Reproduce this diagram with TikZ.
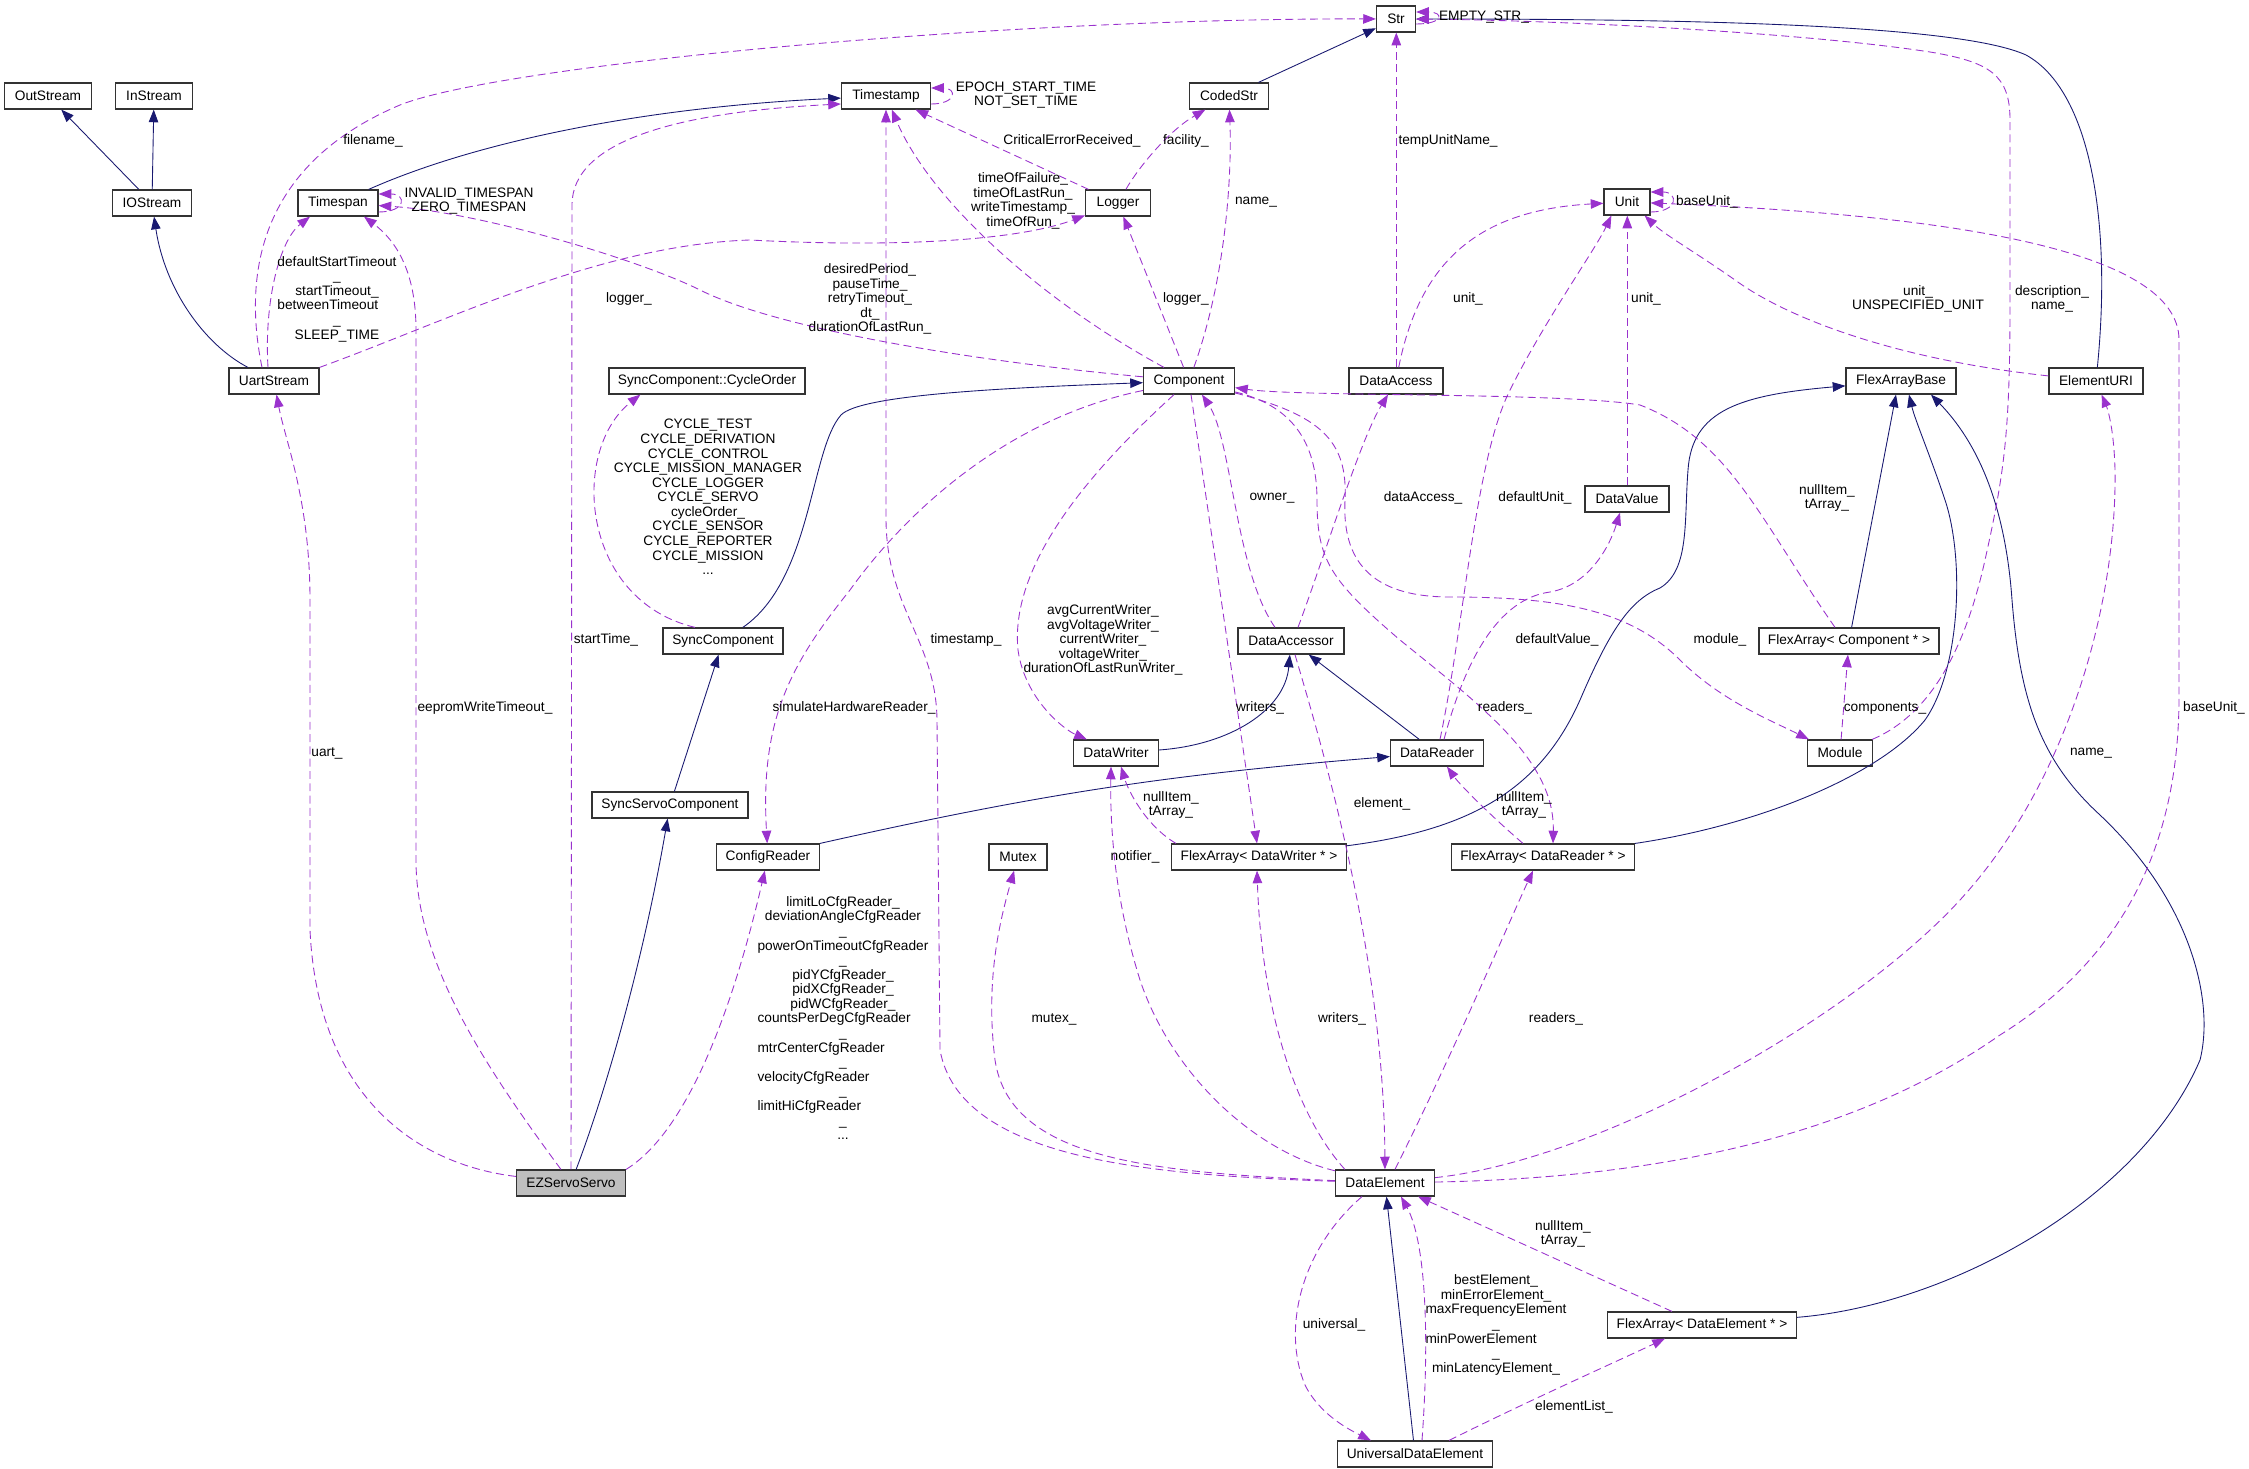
\documentclass[tikz,border=0pt]{standalone}
\usepackage{fontspec}
\setmainfont{Liberation Sans}
\usetikzlibrary{arrows.meta,calc}
\definecolor{inhblue}{HTML}{191970}
\definecolor{usepurple}{HTML}{9A32CD}
\newcommand\lft{\hspace{0pt plus 1fill}\null}
\begin{document}
\begin{tikzpicture}[x=0.02cm,y=-0.02cm,
    >={Triangle[length=7.2pt,width=5.4pt]},
    cls/.style={draw=black!80,line width=0.7pt,fill=white,minimum height=0.52cm,
      inner xsep=2pt,inner ysep=0pt,font=\fontsize{7.8}{8.3}\selectfont},
    lbl/.style={inner sep=0pt,align=center,font=\fontsize{7.8}{8.3}\selectfont},
    inhedge/.style={->,draw=inhblue,line width=0.5pt},
    useedge/.style={->,draw=usepurple,line width=0.5pt,dash pattern=on 4.5pt off 2.5pt}]
  \useasboundingbox (0,0) rectangle (2249,1469);

  % classes
  \node[cls,minimum width=0.78cm] (Str) at (1396,19) {Str};
  \node[cls,minimum width=1.74cm] (OutStream) at (48,96) {OutStream};
  \node[cls,minimum width=1.54cm] (InStream) at (154,96) {InStream};
  \node[cls,minimum width=1.78cm] (Timestamp) at (886,96) {Timestamp};
  \node[cls,minimum width=1.58cm] (CodedStr) at (1229,96) {CodedStr};
  \node[cls,minimum width=1.58cm] (IOStream) at (152,203) {IOStream};
  \node[cls,minimum width=1.6cm] (Timespan) at (338,203) {Timespan};
  \node[cls,minimum width=1.3cm] (Logger) at (1118,203) {Logger};
  \node[cls,minimum width=0.92cm] (Unit) at (1627,202) {Unit};
  \node[cls,minimum width=1.8cm] (UartStream) at (274,381) {UartStream};
  \node[cls,minimum width=3.92cm] (CycleOrder) at (707,381) {SyncComponent::CycleOrder};
  \node[cls,minimum width=1.82cm] (Component) at (1189,381) {Component};
  \node[cls,minimum width=1.88cm] (DataAccess) at (1396,381) {DataAccess};
  \node[cls,minimum width=2.2cm] (FlexArrayBase) at (1901,381) {FlexArrayBase};
  \node[cls,minimum width=1.88cm] (ElementURI) at (2096,381) {ElementURI};
  \node[cls,minimum width=1.68cm] (DataValue) at (1627,499) {DataValue};
  \node[cls,minimum width=2.4cm] (SyncComponent) at (723,641) {SyncComponent};
  \node[cls,minimum width=2.12cm] (DataAccessor) at (1291,641) {DataAccessor};
  \node[cls,minimum width=3.6cm] (FlexComponent) at (1849,641) {FlexArray< Component * >};
  \node[cls,minimum width=1.7cm] (DataWriter) at (1116,753) {DataWriter};
  \node[cls,minimum width=1.86cm] (DataReader) at (1437,753) {DataReader};
  \node[cls,minimum width=1.3cm] (Module) at (1840,753) {Module};
  \node[cls,minimum width=3.12cm] (SyncServoComponent) at (670,805) {SyncServoComponent};
  \node[cls,minimum width=2.06cm] (ConfigReader) at (768,857) {ConfigReader};
  \node[cls,minimum width=1.16cm] (Mutex) at (1018,857) {Mutex};
  \node[cls,minimum width=3.5cm] (FlexWriter) at (1259,857) {FlexArray< DataWriter * >};
  \node[cls,minimum width=3.66cm] (FlexReader) at (1543,857) {FlexArray< DataReader * >};
  \node[cls,minimum width=2.18cm,fill=black!25] (EZServoServo) at (571,1183) {EZServoServo};
  \node[cls,minimum width=1.98cm] (DataElement) at (1385,1183) {DataElement};
  \node[cls,minimum width=3.78cm] (FlexElement) at (1702,1325) {FlexArray< DataElement * >};
  \node[cls,minimum width=3.1cm] (UniversalDataElement) at (1415,1454) {UniversalDataElement};

  % inheritance
  \draw[inhedge] (IOStream) -- (OutStream);
  \draw[inhedge] (IOStream) -- (InStream);
  \draw[inhedge] (UartStream) .. controls (205,345) and (165,290) .. (IOStream);
  \draw[inhedge] (Timespan) .. controls (480,140) and (650,107) .. (Timestamp);
  \draw[inhedge] (CodedStr) -- (Str);
  \draw[inhedge] (ElementURI) .. controls (2112,220) and (2090,90) .. (2026,55)
    .. controls (1960,25) and (1700,19) .. (Str);
  \draw[inhedge] (SyncComponent) .. controls (812,580) and (810,450) .. (841,415)
    .. controls (860,395) and (1000,388) .. (Component);
  \draw[inhedge] (SyncServoComponent) -- (SyncComponent);
  \draw[inhedge] (EZServoServo) .. controls (610,1080) and (645,950) .. (SyncServoComponent);
  \draw[inhedge] (DataWriter) .. controls (1230,745) and (1285,710) .. (DataAccessor);
  \draw[inhedge] (DataReader) -- (DataAccessor);
  \draw[inhedge] (ConfigReader.north east) to[bend left=4] (DataReader);
  \draw[inhedge] (FlexWriter) .. controls (1470,830) and (1540,790) .. (1580,700)
    .. controls (1610,630) and (1630,600) .. (1660,588)
    .. controls (1690,570) and (1684,520) .. (1688,470)
    .. controls (1692,410) and (1740,395) .. (FlexArrayBase);
  \draw[inhedge] (FlexComponent) -- ($(FlexArrayBase.south)+(-5,0)$);
  \draw[inhedge] (FlexReader) .. controls (1760,825) and (1880,775) .. (1925,720)
    .. controls (1960,670) and (1965,560) .. (1945,500)
    .. controls (1930,455) and (1915,420) .. ($(FlexArrayBase.south)+(8,0)$);
  \draw[inhedge] (FlexElement) .. controls (1950,1305) and (2140,1200) .. (2200,1060)
    .. controls (2215,1000) and (2190,900) .. (2100,815)
    .. controls (2040,760) and (2020,700) .. (2012,600)
    .. controls (2005,500) and (1975,440) .. ($(FlexArrayBase.south)+(30,0)$);
  \draw[inhedge] (UniversalDataElement) -- (DataElement);

  % usage
  \draw[useedge] ($(UartStream.north)+(-12,0)$) .. controls (240,260) and (270,160) .. (400,105)
    .. controls (500,65) and (1000,18) .. (Str);
  \draw[useedge] ($(UartStream.north)+(-6,0)$) .. controls (264,300) and (280,240) .. ($(Timespan.south)+(-28,0)$);
  \draw[useedge] (UartStream.north east) .. controls (450,320) and (600,245) .. (750,240)
    .. controls (900,248) and (1020,240) .. (Logger);
  \draw[useedge] ($(Timespan.east)+(0,9)$) .. controls +(28,0) and +(28,0) .. ($(Timespan.east)+(0,-9)$);
  \draw[useedge] ($(Timestamp.east)+(0,8)$) .. controls +(26,0) and +(26,0) .. ($(Timestamp.east)+(0,-8)$);
  \draw[useedge] ($(Str.east)+(0,5)$) .. controls +(28,0) and +(28,0) .. ($(Str.east)+(0,-7)$);
  \draw[useedge] ($(Unit.east)+(0,10)$) .. controls +(28,0) and +(28,0) .. ($(Unit.east)+(0,-10)$);
  \draw[useedge] (Logger) -- (Timestamp);
  \draw[useedge] (Logger) .. controls (1140,165) and (1170,130) .. (CodedStr);
  \draw[useedge] (Component) .. controls (1040,300) and (930,200) .. (Timestamp);
  \draw[useedge] (Component) .. controls (980,362) and (780,330) .. (700,290)
    .. controls (640,260) and (480,212) .. (Timespan);
  \draw[useedge] (Component) -- (Logger);
  \draw[useedge] (Component) .. controls (1225,280) and (1232,180) .. (CodedStr);
  \draw[useedge] ($(DataAccess.north)+(0.3,0)$) -- ($(Str.south)+(0.3,0)$);
  \draw[useedge] (DataAccess) .. controls (1420,260) and (1480,210) .. (Unit);
  \draw[useedge] (EZServoServo) -- (572,205) .. controls (572,140) and (680,112) .. ($(Timestamp.west)+(0,8)$);
  \draw[useedge] (EZServoServo) .. controls (480,1060) and (416,960) .. (416,860) -- (416,330)
    .. controls (416,270) and (395,240) .. ($(Timespan.south)+(26,0)$);
  \draw[useedge] (EZServoServo) .. controls (420,1165) and (318,1100) .. (310,930) -- (310,600)
    .. controls (310,500) and (285,440) .. (UartStream);
  \draw[useedge] (EZServoServo.north east) .. controls (690,1130) and (735,1000) .. (ConfigReader);
  \draw[useedge] ($(SyncComponent.north)+(-28,0)$) .. controls (580,600) and (570,450) .. ($(CycleOrder.south west)+(32,0)$);
  \draw[useedge] (Component) .. controls (1000,420) and (900,520) .. (850,590)
    .. controls (790,665) and (760,720) .. (ConfigReader);
  \draw[useedge] (Component) .. controls (1080,480) and (1010,570) .. (1018,650)
    .. controls (1025,700) and (1065,730) .. ($(DataWriter.north west)+(14,0)$);
  \draw[useedge] (Component) -- (FlexWriter);
  \draw[useedge] (Component) .. controls (1290,405) and (1317,440) .. (1317,500)
    .. controls (1317,560) and (1330,580) .. (1400,640)
    .. controls (1480,705) and (1555,760) .. ($(FlexReader.north)+(10,0)$);
  \draw[useedge] (Component) .. controls (1320,415) and (1348,440) .. (1345,500)
    .. controls (1342,560) and (1370,597) .. (1450,597)
    .. controls (1560,597) and (1630,610) .. (1680,660)
    .. controls (1720,700) and (1770,720) .. ($(Module.north west)+(2,0)$);
  \draw[useedge] ($(FlexComponent.north)+(-14,0)$) .. controls (1760,520) and (1730,440) .. (1640,405)
    .. controls (1560,392) and (1300,397) .. (Component);
  \draw[useedge] (Module) -- (FlexComponent);
  \draw[useedge] (Module) .. controls (1930,715) and (1965,650) .. (1985,560)
    .. controls (2005,470) and (2010,430) .. (2010,300) -- (2010,120)
    .. controls (2010,75) and (1990,62) .. (1930,52)
    .. controls (1800,32) and (1550,20) .. (Str);
  \draw[useedge] (DataElement) .. controls (1650,1178) and (1850,1140) .. (2000,1035)
    .. controls (2120,960) and (2178,850) .. (2179,700) -- (2179,340)
    .. controls (2179,250) and (1950,215) .. (Unit);
  \draw[useedge] (DataElement) .. controls (1600,1160) and (1850,1020) .. (1960,900)
    .. controls (2070,780) and (2117,600) .. (2115,470)
    .. controls (2114,430) and (2108,410) .. (ElementURI);
  \draw[useedge] (DataElement) .. controls (1150,1175) and (960,1160) .. (940,1050) -- (937,720)
    .. controls (936,640) and (887,610) .. (886,520) -- (Timestamp);
  \draw[useedge] (DataElement) .. controls (1150,1172) and (1010,1160) .. (995,1060)
    .. controls (985,980) and (1000,920) .. (Mutex);
  \draw[useedge] (DataElement) .. controls (1250,1150) and (1170,1070) .. (1140,980)
    .. controls (1115,900) and (1110,830) .. ($(DataWriter.south)+(-5,0)$);
  \draw[useedge] ($(DataElement.north west)+(10,0)$) .. controls (1300,1120) and (1262,1020) .. ($(FlexWriter.south)+(-2,0)$);
  \draw[useedge] (DataAccessor) .. controls (1320,740) and (1384,950) .. (DataElement);
  \draw[useedge] ($(DataElement.north)+(10,0)$) .. controls (1450,1060) and (1510,920) .. ($(FlexReader.south)+(-10,0)$);
  \draw[useedge] ($(FlexWriter.north west)+(5,0)$) .. controls (1145,825) and (1128,790) .. ($(DataWriter.south)+(5,0)$);
  \draw[useedge] ($(FlexReader.north west)+(72,0)$) .. controls (1490,815) and (1460,785) .. ($(DataReader.south)+(10,0)$);
  \draw[useedge] ($(DataReader.north)+(3,0)$) .. controls (1465,620) and (1475,460) .. (1510,390)
    .. controls (1545,320) and (1595,250) .. ($(Unit.south west)+(8,0)$);
  \draw[useedge] ($(DataReader.north)+(7,0)$) .. controls (1460,680) and (1490,600) .. (1550,592)
    .. controls (1590,585) and (1610,545) .. ($(DataValue.south)+(-7,0)$);
  \draw[useedge] ($(DataValue.north)+(0.3,0)$) -- ($(Unit.south)+(0.3,0)$);
  \draw[useedge] (ElementURI) .. controls (1900,360) and (1790,320) .. (1735,280)
    .. controls (1695,252) and (1665,235) .. ($(Unit.south east)+(-6,0)$);
  \draw[useedge] ($(DataAccessor.north)+(-16,0)$) .. controls (1235,570) and (1232,440) .. ($(Component.south)+(13,0)$);
  \draw[useedge] ($(DataAccessor.north)+(7,0)$) .. controls (1325,555) and (1360,440) .. ($(DataAccess.south)+(-8,0)$);
  \draw[useedge] (FlexElement) -- ($(DataElement.south east)+(-17,0)$);
  \draw[useedge] ($(UniversalDataElement.north east)+(-44,0)$) .. controls (1530,1400) and (1620,1360) .. ($(FlexElement.south west)+(58,0)$);
  \draw[useedge] ($(UniversalDataElement.north)+(7,0)$) .. controls (1430,1330) and (1425,1240) .. ($(DataElement.south)+(16,0)$);
  \draw[useedge] ($(DataElement.south)+(-23,0)$) .. controls (1300,1250) and (1282,1330) .. (1305,1385)
    .. controls (1320,1415) and (1350,1430) .. ($(UniversalDataElement.north west)+(34,0)$);

  % edge labels
  \node[lbl] (lFilename) at (373,141) {filename\_};
  \node[lbl] (lTimespanSelf) at (469,201) {INVALID\_TIMESPAN\\ZERO\_TIMESPAN};
  \node[lbl] (lUartTimespan) at (337,299) {defaultStartTimeout\\\_\\startTimeout\_\\betweenTimeout\lft\\\_\\SLEEP\_TIME};
  \node[lbl] (lUartLogger) at (629,299) {logger\_};
  \node[lbl] (lTimestampSelf) at (1026,95) {EPOCH\_START\_TIME\\NOT\_SET\_TIME};
  \node[lbl] (lCritical) at (1072,141) {CriticalErrorReceived\_};
  \node[lbl] (lFacility) at (1186,141) {facility\_};
  \node[lbl] (lTempUnit) at (1448,141) {tempUnitName\_};
  \node[lbl] (lStrSelf) at (1484,17) {EMPTY\_STR\_};
  \node[lbl] (lUnitSelf) at (1707,202) {baseUnit\_};
  \node[lbl] (lTimes) at (1023,201) {timeOfFailure\_\\timeOfLastRun\_\\writeTimestamp\_\\timeOfRun\_};
  \node[lbl] (lCompName) at (1256,202) {name\_};
  \node[lbl] (lPeriods) at (870,299) {desiredPeriod\_\\pauseTime\_\\retryTimeout\_\\dt\_\\durationOfLastRun\_};
  \node[lbl] (lCompLogger) at (1186,299) {logger\_};
  \node[lbl] (lAccessUnit) at (1468,299) {unit\_};
  \node[lbl] (lValueUnit) at (1646,299) {unit\_};
  \node[lbl] (lUriUnit) at (1918,299) {unit\_\\UNSPECIFIED\_UNIT};
  \node[lbl] (lModuleStr) at (2052,299) {description\_\\name\_};
  \node[lbl] (lCycle) at (708,497) {CYCLE\_TEST\\CYCLE\_DERIVATION\\CYCLE\_CONTROL\\CYCLE\_MISSION\_MANAGER\\CYCLE\_LOGGER\\CYCLE\_SERVO\\cycleOrder\_\\CYCLE\_SENSOR\\CYCLE\_REPORTER\\CYCLE\_MISSION\\...};
  \node[lbl] (lOwner) at (1272,498) {owner\_};
  \node[lbl] (lDataAccess) at (1423,498) {dataAccess\_};
  \node[lbl] (lDefaultUnit) at (1535,498) {defaultUnit\_};
  \node[lbl] (lNullComp) at (1827,498) {nullItem\_\\tArray\_};
  \node[lbl] (lStartTime) at (606,640) {startTime\_};
  \node[lbl] (lTimestamp) at (966,640) {timestamp\_};
  \node[lbl] (lWriterSet) at (1103,640) {avgCurrentWriter\_\\avgVoltageWriter\_\\currentWriter\_\\voltageWriter\_\\durationOfLastRunWriter\_};
  \node[lbl] (lDefaultValue) at (1557,640) {defaultValue\_};
  \node[lbl] (lModule) at (1720,640) {module\_};
  \node[lbl] (lEeprom) at (485,708) {eepromWriteTimeout\_};
  \node[lbl] (lSimulate) at (854,708) {simulateHardwareReader\_};
  \node[lbl] (lWritersC) at (1260,708) {writers\_};
  \node[lbl] (lReadersC) at (1505,708) {readers\_};
  \node[lbl] (lComponents) at (1885,708) {components\_};
  \node[lbl] (lBaseUnit) at (2214,708) {baseUnit\_};
  \node[lbl] (lUart) at (327,753) {uart\_};
  \node[lbl] (lName) at (2091,753) {name\_};
  \node[lbl] (lNullWriter) at (1171,805) {nullItem\_\\tArray\_};
  \node[lbl] (lElement) at (1382,804) {element\_};
  \node[lbl] (lNullReader) at (1524,805) {nullItem\_\\tArray\_};
  \node[lbl] (lNotifier) at (1135,857) {notifier\_};
  \node[lbl] (lCfg) at (843,1018) {limitLoCfgReader\_\\deviationAngleCfgReader\lft\\\_\\powerOnTimeoutCfgReader\lft\\\_\\pidYCfgReader\_\\pidXCfgReader\_\\pidWCfgReader\_\\countsPerDegCfgReader\lft\\\_\\mtrCenterCfgReader\lft\\\_\\velocityCfgReader\lft\\\_\\limitHiCfgReader\lft\\\_\\...};
  \node[lbl] (lMutex) at (1054,1019) {mutex\_};
  \node[lbl] (lWritersE) at (1342,1019) {writers\_};
  \node[lbl] (lReadersE) at (1556,1019) {readers\_};
  \node[lbl] (lNullElem) at (1563,1234) {nullItem\_\\tArray\_};
  \node[lbl] (lBest) at (1496,1325) {bestElement\_\\minErrorElement\_\\maxFrequencyElement\\\_\\minPowerElement\lft\\\_\\minLatencyElement\_};
  \node[lbl] (lUniversal) at (1334,1325) {universal\_};
  \node[lbl] (lElementList) at (1574,1407) {elementList\_};
\end{tikzpicture}
\end{document}
